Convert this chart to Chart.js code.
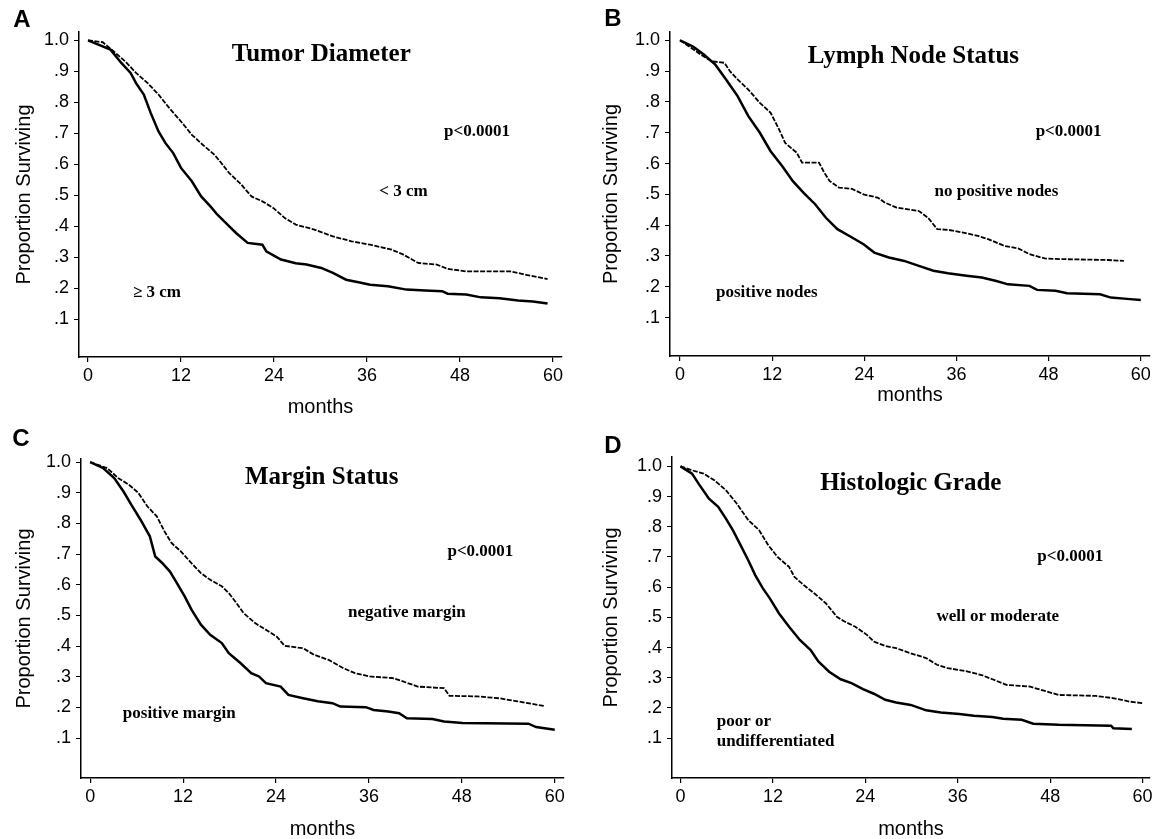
<!DOCTYPE html>
<html>
<head>
<meta charset="utf-8">
<script src="https://cdn.jsdelivr.net/npm/chart.js@4/dist/chart.umd.min.js"></script>
<style>
  body { margin: 0; background: #fff; }
  #wrap { position: relative; width: 1157px; height: 839px; background: #fff; }
  canvas { position: absolute; }
</style>
</head>
<body>
<div id="wrap">
  <canvas id="cA" width="578" height="420" style="left:0;top:0"></canvas>
  <canvas id="cB" width="579" height="420" style="left:578px;top:0"></canvas>
  <canvas id="cC" width="578" height="419" style="left:0;top:420px"></canvas>
  <canvas id="cD" width="579" height="419" style="left:578px;top:420px"></canvas>
</div>
<script>
// tick values and labels
var xTicks = [0, 12, 24, 36, 48, 60];
var yTicks = [0.1, 0.2, 0.3, 0.4, 0.5, 0.6, 0.7, 0.8, 0.9, 1.0];
var yTickLabels = [".1", ".2", ".3", ".4", ".5", ".6", ".7", ".8", ".9", "1.0"];

// A - tumor diameter, [month, proportion surviving]
var tumorLt3 = [[0,1],[1.9,0.994],[3.3,0.965],[4.8,0.932],[6.2,0.895],[7.7,0.862],[9.1,0.825],[10.5,0.781],[12,0.738],[13.4,0.695],[14.8,0.663],[16.3,0.631],[17.2,0.604],[18.2,0.572],[19.6,0.539],[21.1,0.496],[22.5,0.48],[23.9,0.459],[25.4,0.426],[26.8,0.405],[29.2,0.389],[31.6,0.367],[34,0.351],[36.4,0.34],[39.2,0.324],[40.7,0.308],[42.6,0.281],[45,0.276],[46.4,0.262],[48.8,0.254],[54.5,0.254],[56.5,0.243],[59.3,0.229]];
var tumorGe3 = [[0,1],[2.9,0.97],[4.3,0.927],[5.5,0.895],[6.2,0.862],[7.2,0.825],[8.1,0.765],[9.1,0.706],[10,0.668],[11,0.636],[12,0.588],[13.4,0.545],[14.6,0.496],[15.8,0.464],[16.7,0.437],[18.2,0.4],[19.1,0.378],[20.6,0.346],[22.5,0.34],[23,0.319],[24.9,0.292],[26.8,0.28],[28.2,0.276],[30.1,0.265],[31.6,0.249],[33.3,0.227],[34.9,0.219],[36.4,0.211],[38.7,0.206],[41.1,0.195],[43.5,0.192],[45.7,0.19],[46.4,0.182],[48.8,0.179],[50.7,0.17],[53.1,0.167],[55.5,0.16],[57.4,0.157],[59.3,0.15]];

// B - lymph node status
var nodesNeg = [[0,1],[1.2,0.98],[2.7,0.954],[4.1,0.932],[5.8,0.927],[6.5,0.9],[7.5,0.873],[8.9,0.84],[10.4,0.797],[11.8,0.765],[12.8,0.716],[13.7,0.667],[15.2,0.635],[15.9,0.603],[18.1,0.603],[18.8,0.57],[19.5,0.543],[20.7,0.522],[22.4,0.518],[23.9,0.5],[25.8,0.489],[26.7,0.473],[28.2,0.457],[31.1,0.446],[32.3,0.424],[33.5,0.387],[34.9,0.385],[36.9,0.376],[38.8,0.365],[40.2,0.354],[42.2,0.333],[44.1,0.324],[45.5,0.306],[47.5,0.292],[49.4,0.29],[55.7,0.287],[57.8,0.284]];
var nodesPos = [[0,1],[1.7,0.98],[3.1,0.954],[4.6,0.921],[6,0.873],[7.5,0.819],[8.9,0.754],[10.4,0.7],[11.8,0.64],[13.3,0.592],[14.7,0.543],[16.1,0.505],[17.6,0.468],[19,0.424],[20.5,0.387],[22.4,0.36],[23.9,0.338],[25.3,0.311],[27.2,0.295],[29.2,0.284],[31.1,0.268],[33,0.252],[34.9,0.244],[37.3,0.236],[39.3,0.23],[41.2,0.219],[42.7,0.208],[45.5,0.203],[46.5,0.19],[48.9,0.187],[50.4,0.179],[54.7,0.176],[56.1,0.165],[58.6,0.16],[60,0.157]];

// C - margin status
var marginNeg = [[0,1],[2.2,0.98],[3.6,0.948],[5,0.926],[6.2,0.9],[7.4,0.855],[8.6,0.823],[9.6,0.774],[10.5,0.736],[11.7,0.709],[13.1,0.67],[14.3,0.638],[15.5,0.616],[17,0.595],[17.9,0.573],[18.9,0.54],[19.8,0.508],[21.3,0.475],[22.7,0.453],[24.1,0.431],[25.1,0.401],[27.5,0.393],[28.9,0.372],[30.8,0.355],[32.7,0.328],[34.2,0.312],[36.1,0.301],[39,0.296],[40.4,0.285],[42.3,0.268],[45.7,0.263],[46.4,0.238],[50,0.236],[52.8,0.23],[55.2,0.22],[58.6,0.205]];
var marginPos = [[0,1],[1.7,0.98],[3.1,0.948],[4.3,0.904],[5.3,0.861],[6.5,0.812],[7.7,0.758],[8.4,0.692],[9.3,0.671],[10.3,0.643],[11.2,0.605],[12.2,0.562],[13.1,0.518],[14.3,0.47],[15.5,0.437],[17,0.41],[17.9,0.377],[19.4,0.345],[20.8,0.312],[21.8,0.301],[22.7,0.279],[24.6,0.268],[25.6,0.241],[27.5,0.23],[29.4,0.22],[31.3,0.214],[32.3,0.203],[35.6,0.201],[36.6,0.192],[38.5,0.187],[39.9,0.181],[40.9,0.165],[44.2,0.162],[45.7,0.154],[48.1,0.149],[56.6,0.147],[57.6,0.136],[60,0.127]];

// D - histologic grade
var gradeWell = [[0,1],[1.5,0.987],[3,0.976],[4.4,0.954],[5.9,0.921],[7.3,0.877],[8.8,0.822],[10.2,0.789],[11.4,0.739],[12.6,0.7],[14.1,0.667],[14.8,0.634],[16,0.607],[17.4,0.579],[18.9,0.546],[20.3,0.502],[21.3,0.486],[22.7,0.469],[24.2,0.442],[25.1,0.42],[26.6,0.405],[28,0.398],[29.9,0.381],[31.9,0.365],[33.3,0.343],[34.7,0.332],[37.2,0.321],[39.1,0.309],[40.5,0.295],[42.4,0.276],[45.3,0.271],[46.8,0.26],[49.1,0.243],[53.9,0.24],[56.3,0.232],[58.3,0.221],[60,0.216]];
var gradePoor = [[0,1],[1.5,0.976],[2.5,0.937],[3.7,0.893],[4.9,0.866],[5.9,0.827],[6.8,0.789],[7.8,0.739],[8.8,0.689],[9.7,0.64],[10.7,0.596],[11.6,0.563],[12.8,0.513],[14.1,0.469],[15.5,0.425],[16.9,0.392],[17.9,0.354],[19.3,0.32],[20.8,0.295],[22.2,0.282],[23.7,0.262],[25.1,0.247],[26.6,0.227],[28,0.218],[29.9,0.21],[31.9,0.192],[33.8,0.185],[36.2,0.18],[38.1,0.174],[40.5,0.17],[41.9,0.164],[44.3,0.161],[45.8,0.148],[49.1,0.144],[55.9,0.141],[56.2,0.133],[58.6,0.13]];

var panels = [
  { id: "cA", letter: "A", letterAt: [22, 20], title: "Tumor Diameter", titleAt: [30.1, 0.954],
    upper: tumorLt3, lower: tumorGe3,
    notes: [["p<0.0001", 50.2, 0.706], ["< 3 cm", 40.7, 0.512], ["\u2265 3 cm", 8.9, 0.184]],
    pad: { left: 14, right: 16, top: 32, bottom: 3 }, yW: 65, xH: 60,
    x: [-1.16, 61.16], y: [-0.0226, 1.027] },
  { id: "cB", letter: "B", letterAt: [35, 19], title: "Lymph Node Status", titleAt: [30.4, 0.948],
    upper: nodesNeg, lower: nodesPos,
    notes: [["p<0.0001", 50.6, 0.705], ["no positive nodes", 41.2, 0.508], ["positive nodes", 11.3, 0.181]],
    pad: { left: 23, right: 7, top: 32, bottom: 15 }, yW: 69, xH: 49,
    x: [-1.3, 61.2], y: [-0.0246, 1.027] },
  { id: "cC", letter: "C", letterAt: [21, 19], title: "Margin Status", titleAt: [29.9, 0.948],
    upper: marginNeg, lower: marginPos,
    notes: [["p<0.0001", 50.4, 0.709], ["negative margin", 40.9, 0.51], ["positive margin", 11.5, 0.18]],
    pad: { left: 14, right: 14, top: 39, bottom: 0 }, yW: 67, xH: 61,
    x: [-1.19, 61.2], y: [-0.030, 1.01] },
  { id: "cD", letter: "D", letterAt: [35, 26], title: "Histologic Grade", titleAt: [29.9, 0.943],
    upper: gradeWell, lower: gradePoor,
    notes: [["p<0.0001", 50.6, 0.70], ["well or moderate", 41.2, 0.502]],
    left: [["poor or", 4.7, 0.155], ["undifferentiated", 4.7, 0.089]],
    pad: { left: 23, right: 7, top: 37, bottom: 0 }, yW: 71, xH: 61,
    x: [-1.1, 60.96], y: [-0.032, 1.031] }
];

var textPlugin = {
  id: "panelText",
  afterDraw: function (chart) {
    var p = chart.config.options.plugins.panelText.panel;
    var ctx = chart.ctx;
    var sx = chart.scales.x, sy = chart.scales.y;
    ctx.save();
    ctx.fillStyle = "#000";
    ctx.textBaseline = "middle";
    ctx.textAlign = "center";
    ctx.font = "bold 24px 'Liberation Sans', Arial, sans-serif";
    ctx.fillText(p.letter, p.letterAt[0], p.letterAt[1]);
    ctx.font = "bold 25px 'Liberation Serif', 'Times New Roman', serif";
    ctx.fillText(p.title, sx.getPixelForValue(p.titleAt[0]), sy.getPixelForValue(p.titleAt[1]));
    ctx.font = "bold 17px 'Liberation Serif', 'Times New Roman', serif";
    p.notes.forEach(function (n) {
      ctx.fillText(n[0], sx.getPixelForValue(n[1]), sy.getPixelForValue(n[2]));
    });
    ctx.textAlign = "left";
    (p.left || []).forEach(function (n) {
      ctx.fillText(n[0], sx.getPixelForValue(n[1]), sy.getPixelForValue(n[2]));
    });
    ctx.restore();
  }
};

function toPoints(arr) {
  return arr.map(function (d) { return { x: d[0], y: d[1] }; });
}

var tickFont = { family: "'Liberation Sans', Arial, sans-serif", size: 18 };
var axisFont = { family: "'Liberation Sans', Arial, sans-serif", size: 20, lineHeight: 1 };

panels.forEach(function (p) {
  new Chart(document.getElementById(p.id), {
    type: "line",
    data: {
      datasets: [
        { data: toPoints(p.upper), borderColor: "#000", borderWidth: 1.8, borderDash: [5, 1.5],
          tension: 0, pointRadius: 0, fill: false },
        { data: toPoints(p.lower), borderColor: "#000", borderWidth: 2.5,
          tension: 0, pointRadius: 0, fill: false }
      ]
    },
    options: {
      responsive: false,
      animation: false,
      devicePixelRatio: 1,
      layout: { padding: p.pad },
      plugins: {
        legend: { display: false },
        tooltip: { enabled: false },
        panelText: { panel: p }
      },
      scales: {
        x: {
          type: "linear", min: p.x[0], max: p.x[1],
          afterBuildTicks: function (s) { s.ticks = xTicks.map(function (v) { return { value: v }; }); },
          afterFit: function (s) { s.height = p.xH; s.paddingLeft = 0; s.paddingRight = 0; },
          grid: { drawOnChartArea: false, drawTicks: true, tickLength: 5, color: "#000", lineWidth: 1.2 },
          border: { display: true, color: "#000", width: 1.5 },
          ticks: { color: "#000", padding: 3, maxRotation: 0, font: tickFont },
          title: { display: true, text: "months", color: "#000", padding: 0, font: axisFont }
        },
        y: {
          type: "linear", min: p.y[0], max: p.y[1],
          afterBuildTicks: function (s) { s.ticks = yTicks.map(function (v) { return { value: v }; }); },
          afterFit: function (s) { s.width = p.yW; s.paddingTop = 0; s.paddingBottom = 0; },
          grid: { drawOnChartArea: false, drawTicks: true, tickLength: 5, color: "#000", lineWidth: 1 },
          border: { display: true, color: "#000", width: 1.5 },
          ticks: { color: "#000", padding: 5,
            callback: function (v) { var i = yTicks.indexOf(v); return i >= 0 ? yTickLabels[i] : ""; },
            font: tickFont },
          title: { display: true, text: "Proportion Surviving", color: "#000", padding: 0, font: axisFont }
        }
      }
    },
    plugins: [textPlugin]
  });
});
</script>
</body>
</html>
